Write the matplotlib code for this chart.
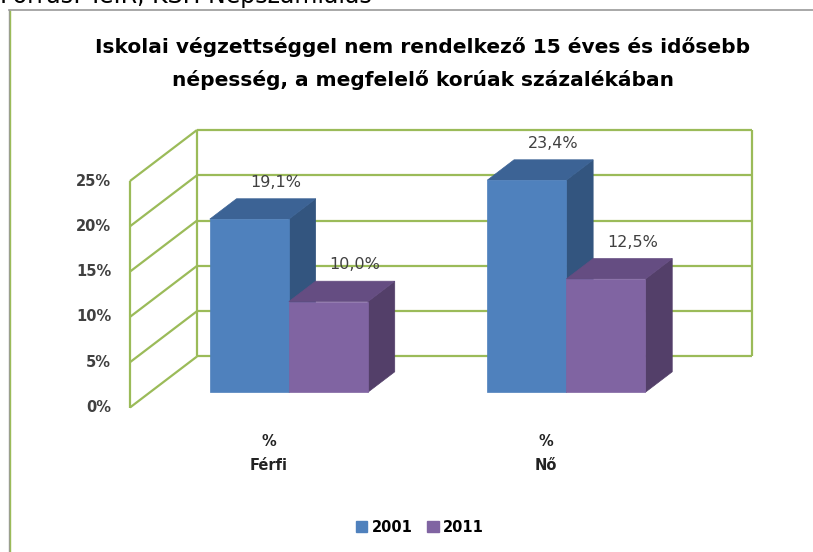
import matplotlib.pyplot as plt
from matplotlib.patches import Polygon, Patch

categories = ["Férfi", "Nő"]
years = ["2001", "2011"]
values_2001 = [19.1, 23.4]
values_2011 = [10.0, 12.5]
y_ticks = [0, 5, 10, 15, 20, 25]

W, H = 813, 552
plt.rcParams['font.family'] = ['DejaVu Sans']

fig = plt.figure(figsize=(W / 100, H / 100), dpi=100)

# front plane of the 3D box (pixel placement of the axes)
ax = fig.add_axes([130 / W, 1 - 407.5 / H, 555 / W, 226.5 / H])
ax.set_xlim(0, 2)
ax.set_ylim(0, 25)
ax.axis('off')

DX, DY = 0.2414, 5.63   # wall depth in data units
BF, BD = 0.30, 0.40     # bar front offset / bar depth, as share of wall depth
bw = 0.285

grid = "#9BBB59"
kw = dict(color=grid, lw=1.6, clip_on=False, solid_capstyle='butt')

# back wall and left wall
for v in y_ticks:
    ax.plot([DX, 2 + DX], [v + DY, v + DY], **kw)
    ax.plot([0, DX], [v, v + DY], **kw)
ax.plot([DX, DX], [DY, 25 + DY], **kw)
ax.plot([2 + DX, 2 + DX], [DY, 25 + DY], **kw)
ax.plot([0, 0], [0, 25], **kw)

# tick labels
for v in y_ticks:
    ax.text(-0.068, v, f"{v}%", ha='right', va='center', fontsize=10.5,
            fontweight='bold', color='#404040')

colors = {
    "2001": ("#4F81BD", "#3C6395", "#33557F"),
    "2011": ("#8064A2", "#654D82", "#533F69"),
}
series = {"2001": values_2001, "2011": values_2011}

dx, dy = BD * DX, BD * DY
for i, cat in enumerate(categories):
    for j, yr in enumerate(years):
        v = series[yr][i]
        front_c, top_c, side_c = colors[yr]
        x0 = i + 0.5 - bw + j * bw + BF * DX
        y0 = BF * DY
        side = [(x0 + bw, y0), (x0 + bw + dx, y0 + dy),
                (x0 + bw + dx, y0 + v + dy), (x0 + bw, y0 + v)]
        top = [(x0, y0 + v), (x0 + bw, y0 + v),
               (x0 + bw + dx, y0 + v + dy), (x0 + dx, y0 + v + dy)]
        front = [(x0, y0), (x0 + bw, y0), (x0 + bw, y0 + v), (x0, y0 + v)]
        for pts, c in ((side, side_c), (top, top_c), (front, front_c)):
            ax.add_patch(Polygon(pts, closed=True, facecolor=c, edgecolor=c,
                                 lw=0.5, clip_on=False, zorder=3))
        label = f"{v:.1f}".replace('.', ',') + "%"
        ax.text(x0 + bw / 2 + dx, y0 + v + dy + 1.8, label, ha='center',
                va='center', fontsize=11.5, color='#404040', zorder=4)

    ax.text(i + 0.5, -3.7, "%", ha='center', va='center', fontsize=10.5,
            fontweight='bold', color='#222222')
    ax.text(i + 0.5, -6.45, cat, ha='center', va='center', fontsize=10.5,
            fontweight='bold', color='#222222')

# title
fig.text(423 / W, 1 - 47 / H,
         "Iskolai végzettséggel nem rendelkező 15 éves és idősebb",
         ha='center', va='center', fontsize=14.5, fontweight='bold')
fig.text(423 / W, 1 - 80 / H,
         "népesség, a megfelelő korúak százalékában",
         ha='center', va='center', fontsize=14.5, fontweight='bold')

# source line cut off at the top edge
fig.text(0 / W, 1 - 3 / H, "Forrás: TeIR, KSH Népszámlálás",
         ha='left', va='baseline', fontsize=17)

# chart frame
fig.add_artist(plt.Line2D([9 / W, 1], [1 - 10 / H, 1 - 10 / H],
                          color='#9A9A9A', lw=1.2))
fig.add_artist(plt.Line2D([8.5 / W, 8.5 / W], [0, 1 - 10 / H],
                          color='#9A9A9A', lw=1.0))
fig.add_artist(plt.Line2D([10 / W, 10 / W], [0, 1 - 11 / H],
                          color=grid, lw=1.0))

# legend
handles = [Patch(facecolor=colors[y][0], edgecolor=colors[y][0], label=y)
           for y in years]
fig.legend(handles=handles, loc='center', bbox_to_anchor=(420 / W, 1 - 527 / H),
           ncol=2, frameon=False, handlelength=0.8, handleheight=0.8,
           handletextpad=0.3, columnspacing=1.0,
           prop={'size': 10.5, 'weight': 'bold'})

fig.savefig("out.png", dpi=100)
